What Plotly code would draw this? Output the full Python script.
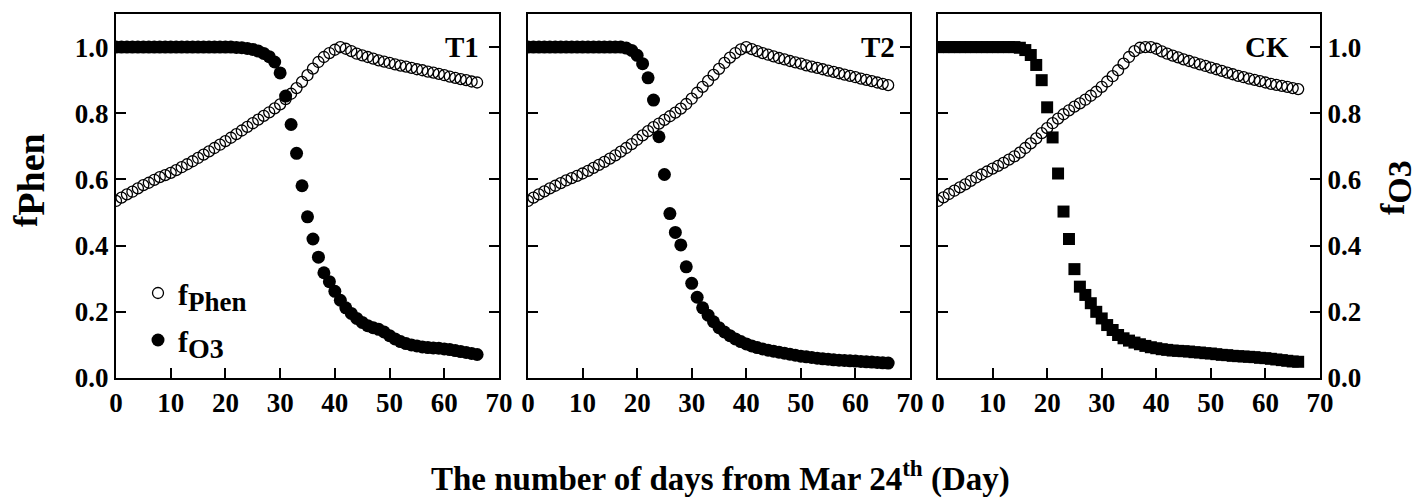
import plotly.graph_objects as go

# ---------------- data ----------------
days = list(range(0, 67))
x_ticks = [0, 10, 20, 30, 40, 50, 60, 70]
y_ticks = [0.0, 0.2, 0.4, 0.6, 0.8, 1.0]
panel_labels = ["T1", "T2", "CK"]

t1_phen = [0.535, 0.545, 0.555, 0.563, 0.573, 0.583, 0.590, 0.599, 0.607, 0.613,
           0.620, 0.628, 0.637, 0.646, 0.655, 0.665, 0.675, 0.685, 0.695, 0.705,
           0.716, 0.726, 0.737, 0.748, 0.759, 0.770, 0.781, 0.792, 0.803, 0.815,
           0.827, 0.843, 0.859, 0.876, 0.895, 0.915, 0.935, 0.955, 0.970, 0.982,
           0.992, 1.000, 0.995, 0.988, 0.980, 0.975, 0.970, 0.965, 0.960, 0.956,
           0.952, 0.948, 0.944, 0.941, 0.937, 0.933, 0.930, 0.926, 0.923, 0.919,
           0.915, 0.911, 0.907, 0.903, 0.900, 0.896, 0.893]
t1_o3 = [1.000, 1.000, 1.000, 1.000, 1.000, 1.000, 1.000, 1.000, 1.000, 1.000,
         1.000, 1.000, 1.000, 1.000, 1.000, 1.000, 1.000, 1.000, 1.000, 1.000,
         1.000, 1.000, 0.999, 0.998, 0.996, 0.993, 0.988, 0.981, 0.971, 0.955,
         0.922, 0.852, 0.766, 0.679, 0.581, 0.487, 0.420, 0.365, 0.318, 0.291,
         0.262, 0.235, 0.212, 0.195, 0.180, 0.168, 0.158, 0.152, 0.147, 0.139,
         0.128, 0.118, 0.110, 0.104, 0.100, 0.097, 0.094, 0.092, 0.091, 0.090,
         0.088, 0.086, 0.083, 0.080, 0.077, 0.074, 0.071]

t2_phen = [0.535, 0.545, 0.555, 0.564, 0.573, 0.581, 0.589, 0.597, 0.604, 0.611,
           0.618, 0.626, 0.635, 0.644, 0.653, 0.663, 0.673, 0.684, 0.695, 0.707,
           0.720, 0.733, 0.746, 0.758, 0.769, 0.780, 0.791, 0.802, 0.814, 0.828,
           0.844, 0.862, 0.880, 0.898, 0.916, 0.934, 0.952, 0.968, 0.982, 0.993,
           1.000, 0.994, 0.988, 0.982, 0.977, 0.972, 0.967, 0.963, 0.958, 0.954,
           0.950, 0.945, 0.941, 0.937, 0.933, 0.929, 0.925, 0.921, 0.917, 0.913,
           0.909, 0.905, 0.901, 0.897, 0.893, 0.889, 0.885]
t2_o3 = [1.000, 1.000, 1.000, 1.000, 1.000, 1.000, 1.000, 1.000, 1.000, 1.000,
         1.000, 1.000, 1.000, 1.000, 1.000, 1.000, 1.000, 1.000, 0.997, 0.990,
         0.975, 0.950, 0.907, 0.840, 0.729, 0.615, 0.497, 0.440, 0.402, 0.336,
         0.286, 0.244, 0.212, 0.190, 0.170, 0.152, 0.139, 0.128, 0.118, 0.110,
         0.103, 0.097, 0.092, 0.088, 0.084, 0.081, 0.078, 0.075, 0.072, 0.069,
         0.066, 0.064, 0.062, 0.060, 0.058, 0.057, 0.055, 0.054, 0.053, 0.052,
         0.051, 0.050, 0.049, 0.048, 0.047, 0.046, 0.045]

ck_phen = [0.535, 0.546, 0.556, 0.566, 0.576, 0.585, 0.596, 0.606, 0.615, 0.624,
           0.633, 0.641, 0.650, 0.660, 0.670, 0.681, 0.695, 0.709, 0.724, 0.740,
           0.755, 0.770, 0.784, 0.797, 0.809, 0.820, 0.830, 0.841, 0.853, 0.865,
           0.880, 0.896, 0.912, 0.930, 0.950, 0.970, 0.988, 0.998, 1.000, 1.000,
           0.995, 0.987, 0.980, 0.974, 0.969, 0.963, 0.958, 0.953, 0.948, 0.943,
           0.938, 0.933, 0.928, 0.923, 0.918, 0.913, 0.909, 0.905, 0.901, 0.897,
           0.893, 0.889, 0.886, 0.883, 0.880, 0.876, 0.873]
ck_o3 = [1.000, 1.000, 1.000, 1.000, 1.000, 1.000, 1.000, 1.000, 1.000, 1.000,
         1.000, 1.000, 1.000, 1.000, 1.000, 0.998, 0.991, 0.976, 0.946, 0.900,
         0.818, 0.727, 0.618, 0.503, 0.420, 0.329, 0.276, 0.251, 0.226, 0.200,
         0.180, 0.160, 0.145, 0.130, 0.120, 0.113, 0.107, 0.102, 0.097, 0.093,
         0.090, 0.087, 0.085, 0.083, 0.082, 0.081, 0.080, 0.078, 0.077, 0.075,
         0.074, 0.072, 0.070, 0.069, 0.067, 0.066, 0.065, 0.064, 0.063, 0.061,
         0.060, 0.058, 0.056, 0.054, 0.052, 0.050, 0.049]

phen_series = [t1_phen, t2_phen, ck_phen]
o3_series = [t1_o3, t2_o3, ck_o3]
o3_symbols = ["circle", "circle", "square"]
o3_sizes = [13, 13, 12]

# ---------------- figure ----------------
W, H = 1427, 500


def px(x):
    return x / W


def py(y):
    return 1 - y / H


FONT = "Liberation Serif"
tickfont = dict(family=FONT, size=27, color="black", weight="bold")

x_domains = [[px(116), px(499)], [px(528), px(910)], [px(938), px(1320)]]
y_domain = [py(378), py(14)]

fig = go.Figure()

for i in range(3):
    xa = "x" if i == 0 else f"x{i+1}"
    ya = "y" if i == 0 else f"y{i+1}"
    fig.add_trace(go.Scatter(
        x=days, y=o3_series[i], mode="markers", xaxis=xa, yaxis=ya,
        name="f<sub><span style='font-size:28px'>O3</span></sub>",
        legend="legend2", showlegend=(i == 0),
        marker=dict(symbol=o3_symbols[i], size=o3_sizes[i], color="black",
                    line=dict(width=0))))
    fig.add_trace(go.Scatter(
        x=days, y=phen_series[i], mode="markers", xaxis=xa, yaxis=ya,
        name="f<sub><span style='font-size:27px'>Phen</span></sub>",
        legend="legend", showlegend=(i == 0),
        marker=dict(symbol="circle-open", size=11, color="black",
                    line=dict(width=1.3, color="black"))))

axis_common = dict(showline=True, linewidth=2, linecolor="black", showgrid=False,
                   zeroline=False, ticks="inside", ticklen=10, tickwidth=2,
                   tickcolor="black", tickfont=tickfont)

layout = dict(width=W, height=H, margin=dict(l=0, r=0, t=0, b=0),
              paper_bgcolor="white", plot_bgcolor="white", showlegend=True)

for i in range(3):
    xk = "xaxis" if i == 0 else f"xaxis{i+1}"
    yk = "yaxis" if i == 0 else f"yaxis{i+1}"
    ya = "y" if i == 0 else f"y{i+1}"
    xa = "x" if i == 0 else f"x{i+1}"
    layout[xk] = dict(axis_common, domain=x_domains[i], anchor=ya, range=[0, 70],
                      tickvals=x_ticks, ticktext=[str(v) for v in x_ticks],
                      mirror=True, automargin=False)
    ydict = dict(axis_common, domain=y_domain, anchor=xa, range=[0, 1.1],
                 tickvals=y_ticks, tickformat=".1f", mirror="ticks", automargin=False)
    if i == 1:
        ydict["showticklabels"] = False
    if i == 2:
        ydict["side"] = "right"
    layout[yk] = ydict

legend_font = dict(family=FONT, size=30, color="black", weight="bold")
layout["legend"] = dict(x=px(138), y=py(293), xanchor="left", yanchor="middle",
                        bgcolor="rgba(0,0,0,0)", borderwidth=0, font=legend_font)
layout["legend2"] = dict(x=px(138), y=py(340), xanchor="left", yanchor="middle",
                         bgcolor="rgba(0,0,0,0)", borderwidth=0, font=legend_font)

fig.update_layout(**layout)

label_right = [481, 897, 1291]
annotations = []
for i in range(3):
    annotations.append(dict(xref="paper", yref="paper", x=px(label_right[i]), y=py(47),
                            xanchor="right", yanchor="middle", showarrow=False,
                            text=panel_labels[i],
                            font=dict(family=FONT, size=29, color="black", weight="bold")))

annotations.append(dict(xref="paper", yref="paper", x=px(29), y=py(180),
                        xanchor="center", yanchor="middle", showarrow=False, textangle=-90,
                        text="f<sub><span style='font-size:38px'>Phen</span></sub>",
                        font=dict(family=FONT, size=34, color="black", weight="bold")))
annotations.append(dict(xref="paper", yref="paper", x=px(1396), y=py(188),
                        xanchor="center", yanchor="middle", showarrow=False, textangle=-90,
                        text="f<sub><span style='font-size:34px'>O3</span></sub>",
                        font=dict(family=FONT, size=34, color="black", weight="bold")))
annotations.append(dict(xref="paper", yref="paper", x=px(720), y=py(476),
                        xanchor="center", yanchor="middle", showarrow=False,
                        text="The number of days from Mar 24<sup>th</sup> (Day)",
                        font=dict(family=FONT, size=33, color="black", weight="bold")))

fig.update_layout(annotations=annotations)

# remove the browser's default 8px page margin so the figure fills the window
fig.write_html("out.html", config={"displayModeBar": False},
               post_script="document.body.style.margin='0px';document.body.style.overflow='hidden';")
